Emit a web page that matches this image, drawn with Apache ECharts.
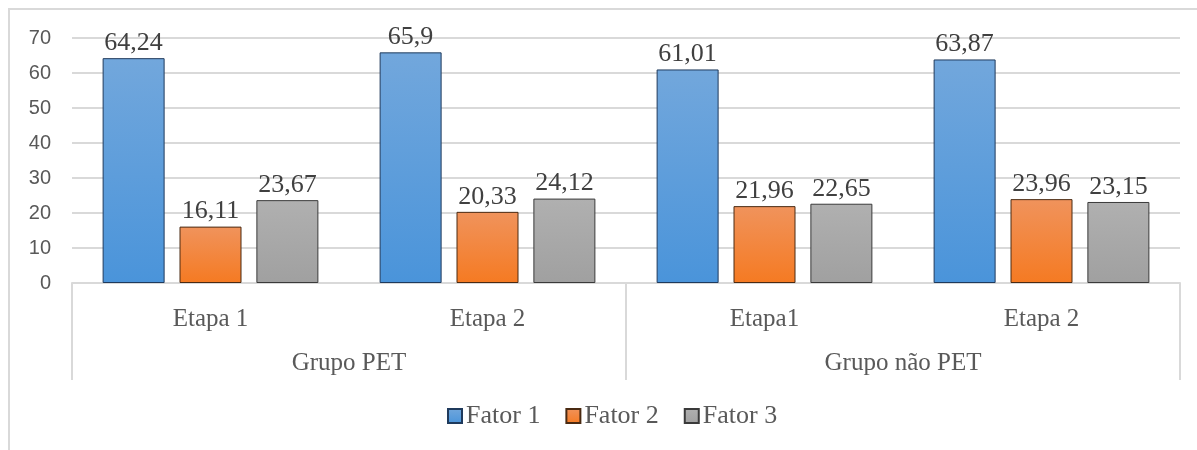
<!DOCTYPE html>
<html>
<head>
<meta charset="utf-8">
<script src="https://cdn.jsdelivr.net/npm/echarts@6/dist/echarts.min.js"></script>
<style>
  html, body { margin: 0; padding: 0; background: #fff; }
  #chart { width: 1197px; height: 450px; }
</style>
</head>
<body>
<div id="chart"></div>
<script>
const etapas = ["Etapa 1", "Etapa 2", "Etapa1", "Etapa 2"];
const grupos = ["Grupo PET", "Grupo não PET"];
const fator1 = [64.24, 65.9, 61.01, 63.87];
const fator2 = [16.11, 20.33, 21.96, 23.96];
const fator3 = [23.67, 24.12, 22.65, 23.15];
const yTicks = { min: 0, max: 70, interval: 10 };

const serif = "'Liberation Serif', 'Times New Roman', serif";

const grad = (top, bottom) =>
  new echarts.graphic.LinearGradient(0, 0, 0, 1, [
    { offset: 0, color: top },
    { offset: 1, color: bottom },
  ]);

const makeSeries = (name, values, top, bottom, border) => ({
  name: name,
  type: "bar",
  data: values,
  barWidth: 62,
  barGap: "24%",
  itemStyle: { color: grad(top, bottom), borderColor: border, borderWidth: 1 },
  label: {
    show: true,
    position: "top",
    distance: 2,
    fontFamily: serif,
    fontSize: 26,
    color: "#404040",
    formatter: (p) => String(p.value).replace(".", ","),
  },
});

const chart = echarts.init(document.getElementById("chart"));

const option = {
  backgroundColor: "#fff",
  animation: false,
  graphic: [
    {
      type: "rect",
      shape: { x: 9, y: 9, width: 1300, height: 600 },
      style: { fill: "none", stroke: "#d9d9d9", lineWidth: 2 },
      silent: true,
    },
  ],
  legend: {
    bottom: 16,
    left: 442,
    itemWidth: 14,
    itemHeight: 14,
    itemGap: 25,
    icon: "rect",
    textStyle: { fontFamily: serif, fontSize: 26, color: "#595959", padding: [0, 0, 0, -1] },
    data: ["Fator 1", "Fator 2", "Fator 3"],
  },
  grid: [
    { left: 72, right: 17, top: 38, bottom: 167 },
    { left: 72, right: 17, top: 38, bottom: 167 },
  ],
  xAxis: [
    {
      type: "category",
      gridIndex: 0,
      data: etapas,
      axisLine: { lineStyle: { color: "#d9d9d9", width: 2 } },
      axisTick: { show: false },
      axisLabel: { fontFamily: serif, fontSize: 25, color: "#595959", margin: 24 },
    },
    {
      type: "category",
      gridIndex: 1,
      data: grupos,
      position: "bottom",
      axisLine: { show: false },
      axisTick: { show: true, length: 97, lineStyle: { color: "#d9d9d9", width: 2 } },
      axisLabel: { fontFamily: serif, fontSize: 25, color: "#595959", margin: 68 },
    },
  ],
  yAxis: [
    {
      type: "value",
      gridIndex: 0,
      min: yTicks.min,
      max: yTicks.max,
      interval: yTicks.interval,
      axisLine: { show: false },
      axisTick: { show: false },
      splitLine: { lineStyle: { color: "#d9d9d9", width: 2 } },
      axisLabel: { fontFamily: "'Liberation Sans', Arial, sans-serif", fontSize: 20, color: "#595959", margin: 21 },
    },
    { type: "value", gridIndex: 1, show: false, min: 0, max: 70 },
  ],
  series: [
    makeSeries("Fator 1", fator1, "#72a7dc", "#4a94da", "#1f3a5c"),
    makeSeries("Fator 2", fator2, "#f0935c", "#f57a22", "#4a2a12"),
    makeSeries("Fator 3", fator3, "#b0b0b0", "#a0a0a0", "#3a3a3a"),
  ],
};

chart.setOption(option);
window.addEventListener("resize", () => chart.resize());
</script>
</body>
</html>
